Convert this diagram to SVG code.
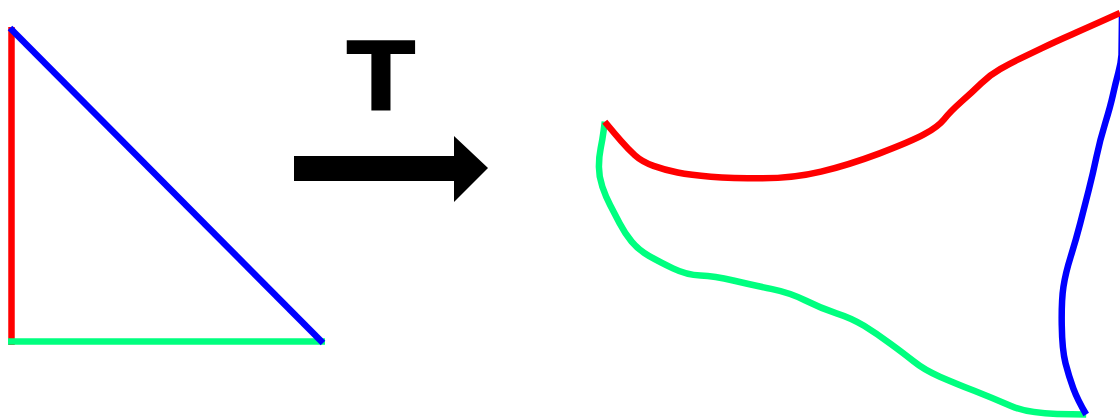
<svg xmlns="http://www.w3.org/2000/svg" width="1120" height="419" viewBox="0 0 1120 419">
<style>
.e{fill:none;stroke-width:6.5;stroke-linejoin:round;stroke-linecap:butt}
.r{stroke:#ff0000}.b{stroke:#0000ff}.g{stroke:#00ff7f}
.lbl{font-family:"DejaVu Sans",sans-serif;font-weight:bold;font-size:96px;fill:#000}
</style>
<rect width="1120" height="419" fill="#fff"/>
<g id="triangle">
<line class="e r" x1="11.5" y1="27" x2="11.5" y2="345"/>
<line class="e g" x1="8" y1="341.5" x2="325" y2="341.5"/>
<line class="e b" x1="10" y1="28" x2="323" y2="343"/>
</g>
<g id="label">
<text class="lbl" x="381" y="110.7" text-anchor="middle" transform="translate(381 0) scale(1.06 1) translate(-381 0)">T</text>
</g>
<g id="connectors">
<polygon points="294,156 454,156 454,136 488,168 454,202 454,181 294,181" fill="#000"/>
</g>
<g id="warped">
<path class="e g" d="M604.8,121.7 L603.6,130.85 Q602.4,140 600.65,148.35 Q598.9,156.7 598.9,166.7 Q598.9,176.7 602.35,186.7 Q605.8,196.7 610.1,205 Q614.4,213.3 619.6,223.3 Q624.8,233.3 631.65,241.65 Q638.5,250 648.85,255.85 Q659.2,261.7 672.95,268.35 Q686.7,275 700.5,275.5 Q714.3,276 733.25,280.5 Q752.2,285 771.1,288.85 Q790,292.7 805.5,300.5 Q821,308.3 836.5,313.3 Q852,318.3 864.05,325.8 Q876.1,333.3 889.9,343.3 Q903.7,353.3 914.05,361.65 Q924.4,370 939.85,376.65 Q955.3,383.3 974.25,390.8 Q993.2,398.3 1010.45,405.8 Q1027.7,413.3 1056.95,413.9 L1086.2,414.5"/>
<path class="e b" d="M1122,14 L1121.5,55 Q1121,63 1118.25,73.15 Q1115.5,83.3 1112.9,95 Q1110.3,106.7 1105.15,123.35 Q1100,140 1096.5,156.65 Q1093,173.3 1088.75,190 Q1084.5,206.7 1080.2,223.35 Q1075.9,240 1070.7,256.65 Q1065.5,273.3 1063.45,286.65 Q1061.4,300 1061.75,325 Q1062.1,350 1065.55,363.35 Q1069,376.7 1073.3,388.35 Q1077.6,400 1086.2,414.5"/>
<path class="e r" d="M604.8,121.7 L609.6,127.5 Q614.4,133.3 621.2,141.15 Q628,149 635,155.35 Q642,161.7 653.5,165.85 Q665,170 677.6,172.5 Q690.2,175 710.85,176.65 Q731.5,178.3 762.5,178.3 Q793.5,178.3 821.05,171.65 Q848.6,165 879.6,153.35 Q910.6,141.7 924.35,134.2 Q938.1,126.7 944.15,119.2 Q950.2,111.7 961.4,101.7 Q972.6,91.7 981.2,83.35 Q989.8,75 1000.1,69.15 Q1010.4,63.3 1019.05,59.15 Q1027.7,55 1041.45,48.35 Q1055.2,41.7 1072.4,34.2 Q1089.6,26.7 1120,13"/>
</g>
</svg>
